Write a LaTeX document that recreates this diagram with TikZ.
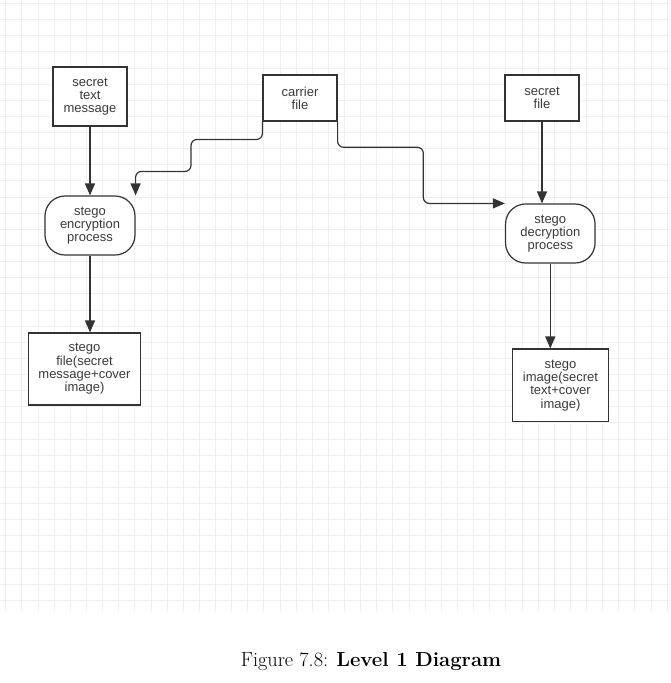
\documentclass[tikz,border=0pt]{standalone}
\usepackage{fontspec}
\newfontfamily\boxfont{Liberation Sans}
\usetikzlibrary{arrows.meta,calc}
\definecolor{gridc}{HTML}{EFEFEF}
\definecolor{linec}{HTML}{333333}
\definecolor{txtc}{HTML}{3A3A3A}
\begin{document}
\begin{tikzpicture}[x=1pt,y=-1pt,
  box/.style={draw=linec,line width=1.2pt,fill=white,inner sep=0pt,align=center,
    text=txtc,font=\boxfont\fontsize{13}{13.3}\selectfont},
  proc/.style={box,rounded corners=20pt},
  arr/.style={draw=linec,line width=1.2pt,-{Triangle[width=10pt,length=12pt]}}]
\useasboundingbox (0,0) rectangle (670,683);
% grid
\foreach \k in {0,...,41}{\draw[gridc,line width=0.7pt] (5.7+16.13*\k,0) -- (5.7+16.13*\k,612);}
\foreach \k in {0,...,37}{\draw[gridc,line width=0.7pt] (0,3.4+16.13*\k) -- (670,3.4+16.13*\k);}
% nodes
\node[box,minimum width=74pt,minimum height=59pt] (stm) at (90,96.5) {secret\\text\\message};
\node[box,minimum width=74pt,minimum height=46pt] (cf) at (300,98) {carrier\\file};
\node[box,minimum width=74pt,minimum height=46pt] (sf) at (542,98) {secret\\file};
\node[proc,minimum width=90pt,minimum height=59pt] (enc) at (90,225.5) {stego\\encryption\\process};
\node[proc,minimum width=89.5pt,minimum height=59pt] (dec) at (550.3,233.5) {stego\\decryption\\process};
\node[box,minimum width=112.5pt,minimum height=72pt] (sfile) at (84.5,369) {stego\\file(secret\\message+cover\\image)};
\node[box,minimum width=95.5pt,minimum height=72.5pt] (simg) at (560.5,385.3) {stego\\image(secret\\text+cover\\image)};
% connectors
\draw[arr] (stm.south) -- (enc.north);
\draw[arr] (enc.south) -- (enc.south |- sfile.north);
\draw[arr] (sf.south) -- (sf.south |- dec.north);
\draw[arr] (dec.south) -- (dec.south |- simg.north);
\draw[arr,rounded corners=6pt] (cf.south west) |- (191,139.5) |- ($(enc.north east)+(0,-24)$) -- (enc.north east);
\draw[arr,rounded corners=6pt] (cf.south east) |- (423.3,147.3) |- (dec.north west);
% caption
\node[anchor=base,inner sep=0pt,font=\fontsize{20.3}{24}\selectfont] (cap) at (371,666.7) {Figure 7.8: \textbf{Level 1 Diagram}};
\end{tikzpicture}
\end{document}
